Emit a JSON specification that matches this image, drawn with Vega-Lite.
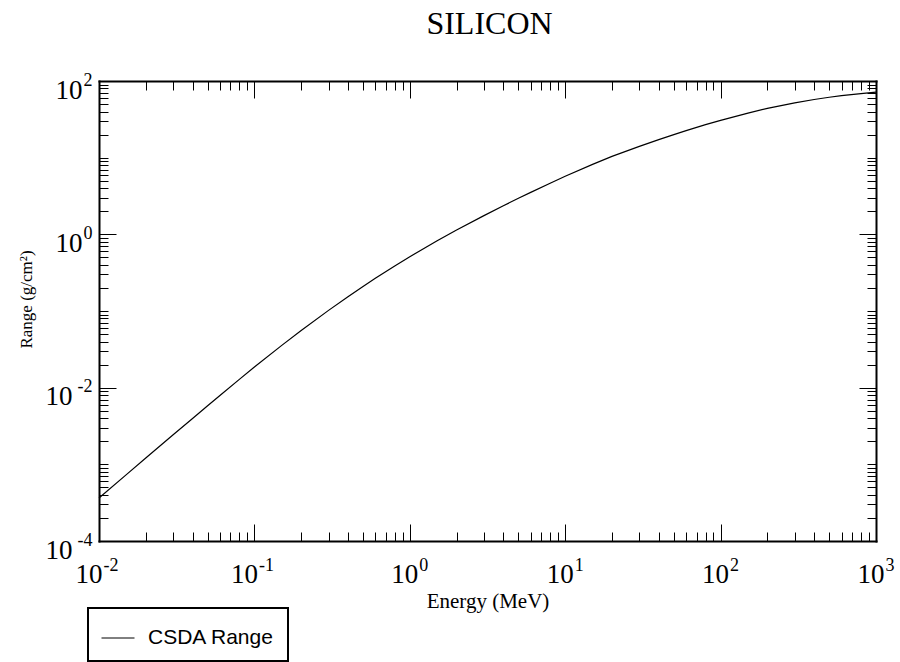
{
  "$schema": "https://vega.github.io/schema/vega-lite/v6.json",
  "width": 777,
  "height": 460,
  "autosize": {"type": "none"},
  "padding": {"left": 99, "top": 81, "right": 24, "bottom": 121},
  "background": "white",
  "data": {"values": [
    {"E": 0.01, "R": 0.000363},
    {"E": 0.015, "R": 0.000735},
    {"E": 0.02, "R": 0.001208},
    {"E": 0.03, "R": 0.002427},
    {"E": 0.04, "R": 0.00397},
    {"E": 0.05, "R": 0.00581},
    {"E": 0.06, "R": 0.00791},
    {"E": 0.08, "R": 0.01282},
    {"E": 0.1, "R": 0.01862},
    {"E": 0.15, "R": 0.0356},
    {"E": 0.2, "R": 0.0557},
    {"E": 0.3, "R": 0.1019},
    {"E": 0.4, "R": 0.1538},
    {"E": 0.5, "R": 0.2094},
    {"E": 0.6, "R": 0.2673},
    {"E": 0.8, "R": 0.3873},
    {"E": 1, "R": 0.5105},
    {"E": 1.5, "R": 0.824},
    {"E": 2, "R": 1.138},
    {"E": 3, "R": 1.754},
    {"E": 4, "R": 2.36},
    {"E": 5, "R": 2.951},
    {"E": 6, "R": 3.524},
    {"E": 8, "R": 4.645},
    {"E": 10, "R": 5.728},
    {"E": 15, "R": 8.185},
    {"E": 20, "R": 10.38},
    {"E": 30, "R": 14.06},
    {"E": 40, "R": 17.22},
    {"E": 50, "R": 20.0},
    {"E": 60, "R": 22.49},
    {"E": 80, "R": 26.92},
    {"E": 100, "R": 30.69},
    {"E": 150, "R": 38.19},
    {"E": 200, "R": 43.95},
    {"E": 300, "R": 51.88},
    {"E": 400, "R": 57.41},
    {"E": 500, "R": 61.38},
    {"E": 600, "R": 64.42},
    {"E": 800, "R": 68.55},
    {"E": 1000, "R": 71.61}
  ]},
  "layer": [
    {
      "mark": {"type": "line", "strokeWidth": 1.2},
      "encoding": {
        "x": {"field": "E", "type": "quantitative",
          "scale": {"type": "log", "domain": [0.01, 1000], "nice": false},
          "axis": {"orient": "bottom", "values": [0.01, 0.1, 1, 10, 100, 1000], "ticks": false, "domain": true,
            "labelExpr": "'10'", "labelFontSize": 27, "labelAlign": "right", "labelBaseline": "alphabetic", "labelPadding": 41,
            "labelOffset": {"condition": {"test": "datum.value < 1", "value": 3}, "value": 8},
            "title": "Energy (MeV)", "titleFontSize": 21, "titleX": 388.5, "titleY": 66, "titleAlign": "center", "titleBaseline": "alphabetic"}},
        "y": {"field": "R", "type": "quantitative",
          "scale": {"type": "log", "domain": [0.0001, 100], "nice": false},
          "axis": {"orient": "left", "values": [0.0001, 0.01, 1, 100], "ticks": false, "domain": true,
            "labelExpr": "'10'", "labelFontSize": 27, "labelAlign": "right", "labelBaseline": "alphabetic",
            "labelPadding": {"condition": {"test": "datum.value < 1", "value": 27}, "value": 17},
            "labelOffset": 17,
            "title": "Range (g/cm²)", "titleFontSize": 17, "titleAngle": -90, "titleX": -68, "titleY": 218, "titleAlign": "center", "titleBaseline": "alphabetic"}},
        "stroke": {"datum": "CSDA Range", "type": "nominal", "scale": {"range": ["black"]},
          "legend": {"orient": "none", "legendX": -11, "legendY": 527, "title": null, "symbolType": "stroke", "symbolSize": 1089, "symbolStrokeWidth": 1,
            "labelFont": "Liberation Sans", "labelFontSize": 21, "labelColor": "black", "labelOffset": 13, "padding": 13, "strokeColor": "black", "fillColor": "white"}}
      }
    },
    {
      "mark": {"type": "line", "opacity": 0},
      "encoding": {
        "x": {"field": "E", "type": "quantitative",
          "scale": {"type": "log", "domain": [0.01, 1000], "nice": false},
          "axis": {"orient": "bottom", "values": [0.01, 0.1, 1, 10, 100, 1000], "ticks": false, "domain": false, "title": null,
            "labelExpr": "(datum.value < 1 ? '-' : '') + abs(round(log(datum.value) / LN10))", "labelFontSize": 18, "labelAlign": "left", "labelBaseline": "alphabetic", "labelPadding": 29,
            "labelOffset": {"condition": {"test": "datum.value < 1", "value": 4}, "value": 9}}},
        "y": {"field": "R", "type": "quantitative",
          "scale": {"type": "log", "domain": [0.0001, 100], "nice": false},
          "axis": {"orient": "left", "values": [0.0001, 0.01, 1, 100], "ticks": false, "domain": false, "title": null,
            "labelExpr": "(datum.value < 1 ? '-' : '') + abs(round(log(datum.value) / LN10))", "labelFontSize": 18, "labelAlign": "right", "labelBaseline": "alphabetic", "labelPadding": 7, "labelOffset": 4}}
      }
    },
    {
      "mark": {"type": "line", "opacity": 0},
      "encoding": {
        "x": {"field": "E", "type": "quantitative",
          "scale": {"type": "log", "domain": [0.01, 1000], "nice": false},
          "axis": {"orient": "bottom", "values": [0.01, 0.1, 1, 10, 100, 1000], "labels": false, "domain": false, "title": null, "ticks": true, "tickSize": -17}},
        "y": {"field": "R", "type": "quantitative",
          "scale": {"type": "log", "domain": [0.0001, 100], "nice": false},
          "axis": {"orient": "left", "values": [0.0001, 0.01, 1, 100], "labels": false, "domain": false, "title": null, "ticks": true, "tickSize": -17}}
      }
    },
    {
      "mark": {"type": "line", "opacity": 0},
      "encoding": {
        "x": {"field": "E", "type": "quantitative",
          "scale": {"type": "log", "domain": [0.01, 1000], "nice": false},
          "axis": {"orient": "bottom", "values": [0.02, 0.03, 0.04, 0.05, 0.06, 0.07, 0.08, 0.09, 0.2, 0.3, 0.4, 0.5, 0.6, 0.7, 0.8, 0.9, 2, 3, 4, 5, 6, 7, 8, 9, 20, 30, 40, 50, 60, 70, 80, 90, 200, 300, 400, 500, 600, 700, 800, 900], "labels": false, "domain": false, "title": null, "ticks": true, "tickSize": -9}},
        "y": {"field": "R", "type": "quantitative",
          "scale": {"type": "log", "domain": [0.0001, 100], "nice": false},
          "axis": {"orient": "left", "values": [0.0002, 0.0003, 0.0004, 0.0005, 0.0006, 0.0007, 0.0008, 0.0009, 0.001, 0.002, 0.003, 0.004, 0.005, 0.006, 0.007, 0.008, 0.009, 0.02, 0.03, 0.04, 0.05, 0.06, 0.07, 0.08, 0.09, 0.1, 0.2, 0.3, 0.4, 0.5, 0.6, 0.7, 0.8, 0.9, 2, 3, 4, 5, 6, 7, 8, 9, 10, 20, 30, 40, 50, 60, 70, 80, 90], "labels": false, "domain": false, "title": null, "ticks": true, "tickSize": -9}}
      }
    },
    {
      "mark": {"type": "line", "opacity": 0},
      "encoding": {
        "x": {"field": "E", "type": "quantitative",
          "scale": {"type": "log", "domain": [0.01, 1000], "nice": false},
          "axis": {"orient": "top", "values": [0.01, 0.1, 1, 10, 100, 1000], "labels": false, "domain": true, "ticks": true, "tickSize": -17,
            "title": "SILICON", "titleFontSize": 32, "titleX": 390, "titleY": -48, "titleAlign": "center", "titleBaseline": "alphabetic"}},
        "y": {"field": "R", "type": "quantitative",
          "scale": {"type": "log", "domain": [0.0001, 100], "nice": false},
          "axis": {"orient": "right", "values": [0.0001, 0.01, 1, 100], "labels": false, "domain": true, "title": null, "ticks": true, "tickSize": -17}}
      }
    },
    {
      "mark": {"type": "line", "opacity": 0},
      "encoding": {
        "x": {"field": "E", "type": "quantitative",
          "scale": {"type": "log", "domain": [0.01, 1000], "nice": false},
          "axis": {"orient": "top", "values": [0.02, 0.03, 0.04, 0.05, 0.06, 0.07, 0.08, 0.09, 0.2, 0.3, 0.4, 0.5, 0.6, 0.7, 0.8, 0.9, 2, 3, 4, 5, 6, 7, 8, 9, 20, 30, 40, 50, 60, 70, 80, 90, 200, 300, 400, 500, 600, 700, 800, 900], "labels": false, "domain": false, "title": null, "ticks": true, "tickSize": -9}},
        "y": {"field": "R", "type": "quantitative",
          "scale": {"type": "log", "domain": [0.0001, 100], "nice": false},
          "axis": {"orient": "right", "values": [0.0002, 0.0003, 0.0004, 0.0005, 0.0006, 0.0007, 0.0008, 0.0009, 0.001, 0.002, 0.003, 0.004, 0.005, 0.006, 0.007, 0.008, 0.009, 0.02, 0.03, 0.04, 0.05, 0.06, 0.07, 0.08, 0.09, 0.1, 0.2, 0.3, 0.4, 0.5, 0.6, 0.7, 0.8, 0.9, 2, 3, 4, 5, 6, 7, 8, 9, 10, 20, 30, 40, 50, 60, 70, 80, 90], "labels": false, "domain": false, "title": null, "ticks": true, "tickSize": -9}}
      }
    }
  ],
  "resolve": {"axis": {"x": "independent", "y": "independent"}},
  "config": {
    "view": {"stroke": null},
    "axis": {"grid": false, "labelColor": "black", "titleColor": "black", "labelFont": "Liberation Serif", "titleFont": "Liberation Serif", "titleFontWeight": "normal", "labelFlush": false, "labelOverlap": false, "labelBound": false, "tickColor": "black", "tickWidth": 1, "domainColor": "black", "domainWidth": 2, "domainCap": "square"},
    "legend": {"strokeWidth": 2}
  }
}
